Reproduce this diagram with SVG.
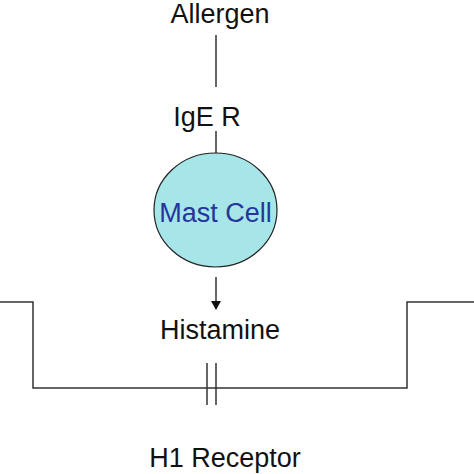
<svg xmlns="http://www.w3.org/2000/svg" width="474" height="474" viewBox="0 0 474 474">
<defs>
<style>
.t{font-family:"Liberation Sans",Arial,sans-serif;font-size:27px;fill:#111;text-anchor:middle}
.l{stroke:#333;stroke-width:1.5;fill:none}
</style>
<marker id="ah" markerWidth="10" markerHeight="10" refX="8" refY="5" orient="auto" markerUnits="userSpaceOnUse">
<path d="M0,0 L9,5 L0,10 Z" fill="#111"/>
</marker>
</defs>
<rect width="474" height="474" fill="#fff"/>
<g id="connectors">
<line class="l" x1="216" y1="35" x2="216" y2="87"/>
<line class="l" x1="216" y1="131" x2="216" y2="153"/>
<line class="l" x1="216" y1="277" x2="216" y2="309" marker-end="url(#ah)"/>
<polyline class="l" points="0,302 33,302 33,388 407,388 407,302 474,302"/>
<line class="l" x1="207" y1="363" x2="207" y2="405"/>
<line class="l" x1="216" y1="363" x2="216" y2="405"/>
</g>
<g id="allergen"><text class="t" x="220" y="23">Allergen</text></g>
<g id="ige-r"><text class="t" x="207" y="126">IgE R</text></g>
<g id="mast-cell">
<ellipse cx="215.5" cy="210" rx="61.5" ry="57" fill="#a6e5e8" stroke="#222" stroke-width="1.2"/>
<text class="t" x="215.5" y="222" style="fill:#27359b">Mast Cell</text>
</g>
<g id="histamine"><text class="t" x="220" y="339">Histamine</text></g>
<g id="h1-receptor"><text class="t" x="225" y="467">H1 Receptor</text></g>
</svg>
